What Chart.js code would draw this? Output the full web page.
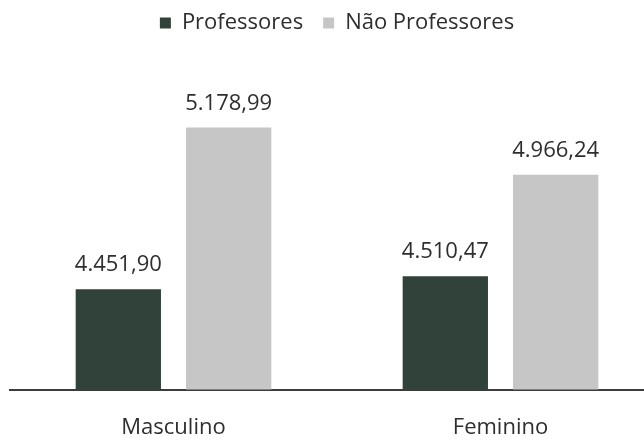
<!DOCTYPE html>
<html lang="pt">
<head>
<meta charset="UTF-8">
<title>Professores x Não Professores</title>
<script src="https://cdn.jsdelivr.net/npm/chart.js"></script>
<style>
  html, body { margin: 0; padding: 0; background: #ffffff; overflow: hidden; }
  #wrap { width: 644px; height: 441px; overflow: hidden; }
</style>
</head>
<body>
<div id="wrap"><canvas id="grafico" width="664" height="441"></canvas></div>
<script>
// dados
const categorias = ['Masculino', 'Feminino'];
const professores = [4451.90, 4510.47];
const naoProfessores = [5178.99, 4966.24];
const series = ['Professores', 'Não Professores'];

const fmt = v => v.toLocaleString('pt-BR', { minimumFractionDigits: 2, maximumFractionDigits: 2 });

// rótulos de valor em cima das barras
const rotulos = {
    id: 'rotulos',
    afterDatasetsDraw(chart) {
        const ctx = chart.ctx;
        ctx.save();
        ctx.font = '22px "Open Sans", sans-serif';
        ctx.fillStyle = '#2e2e2e';
        ctx.textAlign = 'center';
        ctx.textBaseline = 'bottom';
        chart.data.datasets.forEach((ds, i) => {
            chart.getDatasetMeta(i).data.forEach((bar, j) => {
                ctx.fillText(fmt(ds.data[j]), bar.x, bar.y - 13);
            });
        });
        ctx.restore();
    }
};

new Chart(document.getElementById('grafico'), {
    type: 'bar',
    data: {
        labels: categorias,
        datasets: [{
            label: series[0],
            data: professores,
            backgroundColor: '#304239'
        }, {
            label: series[1],
            data: naoProfessores,
            backgroundColor: '#c6c6c6'
        }]
    },
    options: {
        responsive: false,
        animation: false,
        layout: { padding: { left: 10, right: 0, top: -8, bottom: -17 } },
        categoryPercentage: 0.675,
        barPercentage: 0.773,
        plugins: {
            legend: {
                position: 'top',
                labels: {
                    boxWidth: 11,
                    boxHeight: 11,
                    color: '#2e2e2e',
                    font: { family: '"Open Sans", sans-serif', size: 22 },
                    padding: 20
                }
            },
            tooltip: { enabled: false }
        },
        scales: {
            x: {
                grid: { display: false },
                border: { display: true, color: '#3c3c3c', width: 2 },
                ticks: {
                    color: '#2e2e2e',
                    font: { family: '"Open Sans", sans-serif', size: 22 },
                    padding: 17
                }
            },
            y: {
                display: false,
                min: 4000,
                max: 5555
            }
        }
    },
    plugins: [rotulos]
});
</script>
</body>
</html>
